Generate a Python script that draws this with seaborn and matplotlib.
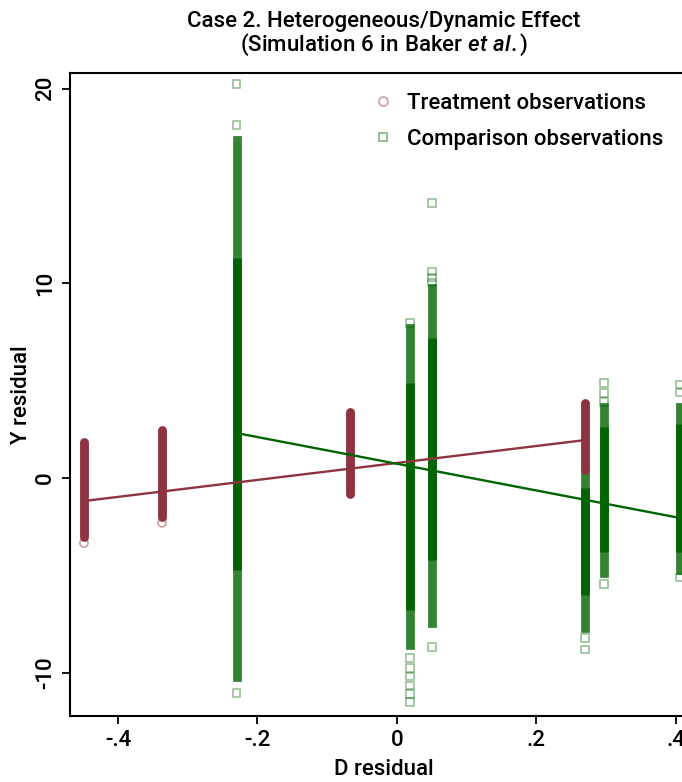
import numpy as np
import pandas as pd
import matplotlib
matplotlib.use("Agg")
import matplotlib.pyplot as plt
from matplotlib.lines import Line2D
import seaborn as sns

# ---- treated observations: one column per D-residual value ----
treat_x = [-0.449, -0.337, -0.067, 0.270]
treat_lo = [-3.03, -2.00, -0.82, 0.41]
treat_hi = [1.85, 2.47, 3.39, 3.85]
treat_out_x = [-0.449, -0.337]
treat_out_y = [-3.34, -2.30]

# ---- comparison observations ----
comp_x = [-0.230, 0.019, 0.050, 0.270, 0.297, 0.406]
comp_lo = [-10.20, -8.58, -7.45, -7.70, -4.88, -4.70]
comp_hi = [17.36, 7.70, 9.76, 0.26, 3.65, 3.65]
comp_core_lo = [-4.70, -6.80, -4.20, -6.00, -3.80, -3.80]
comp_core_hi = [11.30, 4.90, 7.20, -0.50, 2.60, 2.80]
comp_out_x = [-0.230, -0.230, -0.230,
              0.019, 0.019, 0.019, 0.019, 0.019, 0.019, 0.019,
              0.050, 0.050, 0.050, 0.050, 0.050,
              0.270, 0.270,
              0.297, 0.297, 0.297, 0.297,
              0.406, 0.406, 0.406]
comp_out_y = [20.24, 18.13, -11.04,
              7.96, -9.25, -9.76, -10.20, -10.65, -11.10, -11.50,
              14.12, 10.60, 10.30, 10.05, -8.68,
              -8.20, -8.80,
              4.88, 4.37, 3.90, -5.44,
              4.80, 4.40, -5.10]

# ---- within-group linear fits (intercept, slope) ----
treat_fit = (0.774, 4.353)
comp_fit = (0.733, -6.855)

xtick_vals = [-0.4, -0.2, 0.0, 0.2, 0.4]
xtick_labels = ["-.4", "-.2", "0", ".2", ".4"]
ytick_vals = [-10, 0, 10, 20]
ytick_labels = ["-10", "0", "10", "20"]

RED = "#8E3441"
GREEN = "#006400"
FS = 16

sns.set_theme(style="ticks")
plt.rcParams["font.family"] = ["Roboto", "DejaVu Sans"]
plt.rcParams["font.weight"] = "medium"
plt.rcParams["axes.titleweight"] = "medium"
plt.rcParams["axes.labelweight"] = "medium"
plt.rcParams["text.color"] = "black"
plt.rcParams["mathtext.fontset"] = "custom"
plt.rcParams["mathtext.rm"] = "Roboto:medium"
plt.rcParams["mathtext.it"] = "Roboto:italic"

fig = plt.figure(figsize=(6.82, 7.82), dpi=100)
ax = fig.add_axes([70 / 682, 66 / 782, 628 / 682, 643 / 782])

# dense comparison columns: sparse tails then solid core
ax.vlines(comp_x, comp_lo, comp_hi, color=GREEN, alpha=0.8, lw=6.3,
          capstyle="projecting", zorder=2)
ax.vlines(comp_x, comp_core_lo, comp_core_hi, color=GREEN, alpha=1.0, lw=6.3,
          capstyle="butt", zorder=2)

# dense treated columns
ax.vlines(treat_x, treat_lo, treat_hi, color=RED, alpha=1.0, lw=6.4,
          capstyle="round", zorder=3)

# isolated observations (hollow, translucent markers)
comp_df = pd.DataFrame({"x": comp_out_x, "y": comp_out_y})
treat_df = pd.DataFrame({"x": treat_out_x, "y": treat_out_y})
sns.scatterplot(data=comp_df, x="x", y="y", ax=ax, marker="s", s=30,
                facecolor="none", edgecolor=GREEN, linewidth=1.3, alpha=0.38,
                zorder=2)
sns.scatterplot(data=treat_df, x="x", y="y", ax=ax, marker="o", s=34,
                facecolor="none", edgecolor=RED, linewidth=1.3, alpha=0.45,
                zorder=3)

# fitted lines
tx = np.array([min(treat_x), max(treat_x)])
cx = np.array([min(comp_x), max(comp_x)])
fit_treat = pd.DataFrame({"x": tx, "y": treat_fit[0] + treat_fit[1] * tx})
fit_comp = pd.DataFrame({"x": cx, "y": comp_fit[0] + comp_fit[1] * cx})
sns.lineplot(data=fit_treat, x="x", y="y", ax=ax, color=RED, lw=1.7, zorder=4)
sns.lineplot(data=fit_comp, x="x", y="y", ax=ax, color=GREEN, lw=1.7, zorder=4)

ax.set_xlim(-0.469, 0.432)
ax.set_ylim(-12.22, 20.80)
ax.set_xticks(xtick_vals)
ax.set_xticklabels(xtick_labels, fontweight="medium")
ax.set_yticks(ytick_vals)
ax.set_yticklabels(ytick_labels, fontweight="medium")
ax.tick_params(axis="both", direction="out", length=6, width=1.3,
               labelsize=FS, color="black", labelcolor="black", pad=4)
ax.tick_params(axis="y", labelrotation=90)
for lbl in ax.get_yticklabels():
    lbl.set_va("center")

for side in ["left", "bottom", "top"]:
    ax.spines[side].set_visible(True)
    ax.spines[side].set_linewidth(1.5)
    ax.spines[side].set_color("black")
ax.spines["right"].set_visible(False)
ax.grid(False)
ax.set_facecolor("white")

ax.set_xlabel("D residual", fontsize=FS, labelpad=6, color="black")
ax.set_ylabel("Y residual", fontsize=FS, labelpad=2, color="black")
ax.set_title("Case 2. Heterogeneous/Dynamic Effect\n"
             "$\\mathrm{(Simulation\\ 6\\ in\\ Baker\\ }"
             "\\mathit{et\\ al.}\\mathrm{)}$",
             fontsize=FS, pad=16, color="black", linespacing=1.0)

handles = [
    Line2D([], [], ls="", marker="o", ms=6.5, mfc="none",
           mec=RED, mew=1.3, alpha=0.45),
    Line2D([], [], ls="", marker="s", ms=6, mfc="none",
           mec=GREEN, mew=1.3, alpha=0.45),
]
ax.legend(handles, ["Treatment observations", "Comparison observations"],
          loc="upper left", bbox_to_anchor=(373 / 682, 1 - 93 / 782),
          bbox_transform=fig.transFigure, frameon=False, fontsize=FS,
          handlelength=0.9, handletextpad=0.62, labelspacing=0.66,
          borderpad=0, borderaxespad=0, labelcolor="black")

fig.savefig("out.png", dpi=100)
